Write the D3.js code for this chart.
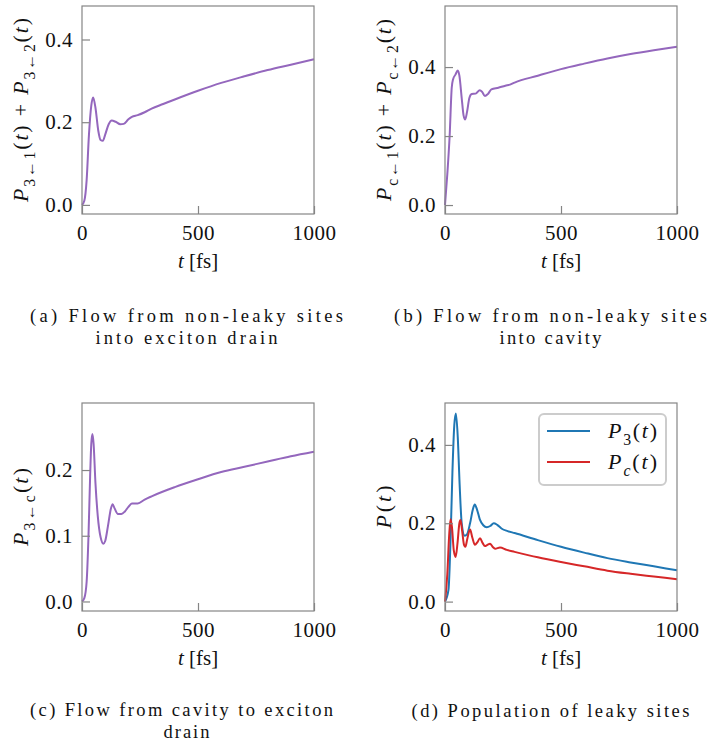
<!DOCTYPE html>
<html>
<head>
<meta charset="utf-8">
<script src="https://cdn.jsdelivr.net/npm/d3@7"></script>
<style>
  body { margin: 0; background: #fff; }
  svg text { font-family: "Liberation Serif", "Times New Roman", "DejaVu Serif", serif; fill: #111; }
</style>
</head>
<body>
<script>
// data
var xTicks = [0, 500, 1000];

// (a) flow from non-leaky sites into exciton drain
var tA = [0, 10, 20, 30, 40, 48, 58, 70, 80, 90, 100, 115, 128, 145, 165, 180, 200, 215, 240, 270, 300, 350, 400, 500, 600, 700, 800, 900, 1000];
var vA = [0, 0.01, 0.06, 0.17, 0.24, 0.26, 0.235, 0.18, 0.157, 0.155, 0.17, 0.195, 0.204, 0.201, 0.195, 0.196, 0.207, 0.213, 0.217, 0.224, 0.233, 0.244, 0.255, 0.276, 0.295, 0.311, 0.326, 0.339, 0.352];
var yTicksA = [0, 0.2, 0.4];

// (b) flow from non-leaky sites into cavity
var tB = [0, 10, 20, 29, 35, 45, 55, 62, 72, 80, 87, 95, 105, 115, 132, 150, 160, 172, 185, 200, 230, 260, 280, 300, 400, 500, 600, 700, 800, 900, 1000];
var vB = [0, 0.09, 0.2, 0.34, 0.365, 0.378, 0.39, 0.375, 0.31, 0.26, 0.248, 0.27, 0.31, 0.322, 0.323, 0.333, 0.328, 0.316, 0.322, 0.335, 0.34, 0.346, 0.349, 0.355, 0.375, 0.394, 0.41, 0.425, 0.438, 0.449, 0.459];
var yTicksB = [0, 0.2, 0.4];

// (c) flow from cavity to exciton drain
var tC = [0, 10, 20, 28, 35, 40, 45, 50, 58, 68, 80, 92, 100, 112, 125, 132, 140, 155, 170, 185, 200, 215, 240, 270, 300, 400, 500, 600, 700, 800, 900, 1000];
var vC = [0, 0.005, 0.03, 0.1, 0.19, 0.24, 0.255, 0.24, 0.18, 0.13, 0.098, 0.088, 0.092, 0.115, 0.142, 0.148, 0.142, 0.133, 0.133, 0.137, 0.144, 0.149, 0.149, 0.155, 0.16, 0.174, 0.186, 0.197, 0.205, 0.213, 0.221, 0.228];
var yTicksC = [0, 0.1, 0.2];

// (d) population of leaky sites
var tP3 = [0, 15, 25, 32, 40, 47, 55, 63, 72, 85, 95, 108, 120, 128, 138, 150, 165, 180, 195, 210, 225, 245, 270, 300, 400, 500, 600, 700, 800, 900, 1000];
var vP3 = [0, 0.03, 0.18, 0.33, 0.45, 0.48, 0.42, 0.3, 0.2, 0.168, 0.172, 0.2, 0.235, 0.248, 0.235, 0.21, 0.195, 0.19, 0.193, 0.2, 0.196, 0.186, 0.18, 0.175, 0.157, 0.14, 0.125, 0.111, 0.1, 0.09, 0.08];
var tPc = [0, 10, 18, 24, 30, 38, 46, 54, 62, 67, 74, 82, 88, 96, 108, 118, 129, 140, 151, 162, 172, 183, 194, 205, 216, 237, 266, 300, 400, 500, 600, 700, 800, 900, 1000];
var vPc = [0, 0.07, 0.17, 0.21, 0.19, 0.13, 0.114, 0.15, 0.2, 0.208, 0.18, 0.145, 0.14, 0.16, 0.184, 0.163, 0.145, 0.152, 0.162, 0.15, 0.142, 0.145, 0.148, 0.14, 0.135, 0.138, 0.132, 0.127, 0.113, 0.101, 0.09, 0.079, 0.071, 0.064, 0.057];
var yTicksD = [0, 0.2, 0.4];
var legendLabels = [["P", "3"], ["P", "c"]];

var captions = [
  ["(a) Flow from non-leaky sites", "into exciton drain"],
  ["(b) Flow from non-leaky sites", "into cavity"],
  ["(c) Flow from cavity to exciton", "drain"],
  ["(d) Population of leaky sites"]
];

// layout
var width = 717, height = 744;
var pw = 232, ph = 208;
var purple = "#9467bd", blue = "#1f77b4", red = "#d62728";
var frameColor = "#858585";
var serif = "'Liberation Serif', 'Times New Roman', 'DejaVu Serif', serif";
var fs = 21;
var labelFs = 22;

var svg = d3.select("body").append("svg")
    .attr("width", width)
    .attr("height", height);

// writes a little math string: pieces are [text, style] with style "i" italic, "s" subscript, "" roman
function mathText(sel, pieces, size) {
  var shift = 0;
  pieces.forEach(function(p) {
    var ts = sel.append("tspan").text(p[0]);
    var down = p[1].indexOf("s") >= 0 ? Math.round(size * 0.3) : 0;
    if (down != shift) { ts.attr("dy", down - shift); shift = down; }
    if (p[1].indexOf("i") >= 0) ts.style("font-style", "italic");
    if (p[1].indexOf("s") >= 0) ts.style("font-size", (size * 0.72) + "px");
  });
}

function drawPanel(left, top, yDomain, yTicks, series, ylabel, ylabelLen) {
  var x = d3.scaleLinear().domain([0, 1000]).range([left, left + pw]);
  var y = d3.scaleLinear().domain(yDomain).range([top + ph, top]);
  var g = svg.append("g");

  var line = d3.line()
      .x(function(d) { return x(d[0]); })
      .y(function(d) { return y(d[1]); })
      .curve(d3.curveMonotoneX);

  series.forEach(function(s) {
    g.append("path")
      .datum(d3.zip(s.t, s.v))
      .attr("d", line)
      .attr("fill", "none")
      .attr("stroke", s.color)
      .attr("stroke-width", 2);
  });

  // axes with inward ticks
  var ya = g.append("g").attr("transform", "translate(" + left + ",0)")
      .call(d3.axisLeft(y).tickValues(yTicks).tickSize(-8).tickPadding(9).tickFormat(d3.format(".1f")));
  var xa = g.append("g").attr("transform", "translate(0," + (top + ph) + ")")
      .call(d3.axisBottom(x).tickValues(xTicks).tickSize(-8).tickPadding(11).tickFormat(d3.format("d")));
  [ya, xa].forEach(function(a) {
    a.attr("font-family", serif).attr("font-size", fs);
    a.select(".domain").remove();
    a.selectAll(".tick line").attr("stroke", frameColor).attr("stroke-width", 1.2);
    a.selectAll(".tick text").attr("fill", "#111").style("letter-spacing", "0.5px");
  });

  g.append("rect")
    .attr("x", left).attr("y", top)
    .attr("width", pw).attr("height", ph)
    .attr("fill", "none")
    .attr("stroke", frameColor)
    .attr("stroke-width", 1.2);

  // x label
  var xl = g.append("text")
    .attr("x", left + pw / 2).attr("y", top + ph + 54)
    .attr("text-anchor", "middle")
    .style("font-size", fs + "px");
  mathText(xl, [["t", "i"], [" [fs]", ""]], fs);

  // y label
  var yl = g.append("text")
    .attr("transform", "translate(" + (left - 54) + "," + (top + ph / 2) + ") rotate(-90)")
    .attr("text-anchor", "middle")
    .attr("textLength", ylabelLen)
    .attr("lengthAdjust", "spacing")
    .style("font-size", labelFs + "px");
  mathText(yl, ylabel, labelFs);

  return {x: x, y: y, g: g};
}

var pa = drawPanel(82, 6, [-0.022, 0.481], yTicksA,
  [{t: tA, v: vA, color: purple}],
  [["P", "i"], ["3\u21901", "s"], ["(", ""], ["t", "i"], [") + ", ""], ["P", "i"], ["3\u21902", "s"], ["(", ""], ["t", "i"], [")", ""]], 184);

var pb = drawPanel(445, 6, [-0.026, 0.577], yTicksB,
  [{t: tB, v: vB, color: purple}],
  [["P", "i"], ["c\u21901", "s"], ["(", ""], ["t", "i"], [") + ", ""], ["P", "i"], ["c\u21902", "s"], ["(", ""], ["t", "i"], [")", ""]], 182);

var pc = drawPanel(82, 403, [-0.0145, 0.302], yTicksC,
  [{t: tC, v: vC, color: purple}],
  [["P", "i"], ["3\u2190c", "s"], ["(", ""], ["t", "i"], [")", ""]], 78);

var pd = drawPanel(445, 403, [-0.024, 0.507], yTicksD,
  [{t: tP3, v: vP3, color: blue}, {t: tPc, v: vPc, color: red}],
  [["P", "i"], ["(", ""], ["t", "i"], [")", ""]], 43);

// legend for (d)
var leg = svg.append("g");
leg.append("rect")
  .attr("x", 539).attr("y", 414)
  .attr("width", 127).attr("height", 71)
  .attr("rx", 5)
  .attr("fill", "#fff").attr("fill-opacity", 0.85)
  .attr("stroke", "#cccccc").attr("stroke-width", 2);
[blue, red].forEach(function(c, i) {
  var ly = 431 + i * 31;
  leg.append("line")
    .attr("x1", 547).attr("x2", 590)
    .attr("y1", ly).attr("y2", ly)
    .attr("stroke", c).attr("stroke-width", 2);
  var lt = leg.append("text")
    .attr("x", 608).attr("y", ly + 7)
    .attr("textLength", 49)
    .attr("lengthAdjust", "spacing")
    .style("font-size", labelFs + "px");
  mathText(lt, [[legendLabels[i][0], "i"], [legendLabels[i][1], i == 0 ? "s" : "is"], ["(", ""], ["t", "i"], [")", ""]], labelFs);
});

// captions: lines stretched to the widths they have in the figure
var capFont = 18.5;
var capLead = 22;
var capSpec = [
  {left: 30, top: 322, lens: [313, 182]},
  {left: 394, top: 322, lens: [313, 102]},
  {left: 30, top: 716, lens: [303, 46]},
  {left: 394, top: 717, lens: [278]}
];
captions.forEach(function(lines, k) {
  var sp = capSpec[k];
  var cx = sp.left + 313 / 2;
  lines.forEach(function(line, li) {
    var first = li == 0 && lines.length > 1;
    svg.append("text")
      .attr("x", first ? sp.left : cx)
      .attr("y", sp.top + li * capLead)
      .attr("text-anchor", first ? "start" : "middle")
      .attr("textLength", sp.lens[li])
      .attr("lengthAdjust", "spacing")
      .style("font-size", capFont + "px")
      .text(line);
  });
});
</script>
</body>
</html>
